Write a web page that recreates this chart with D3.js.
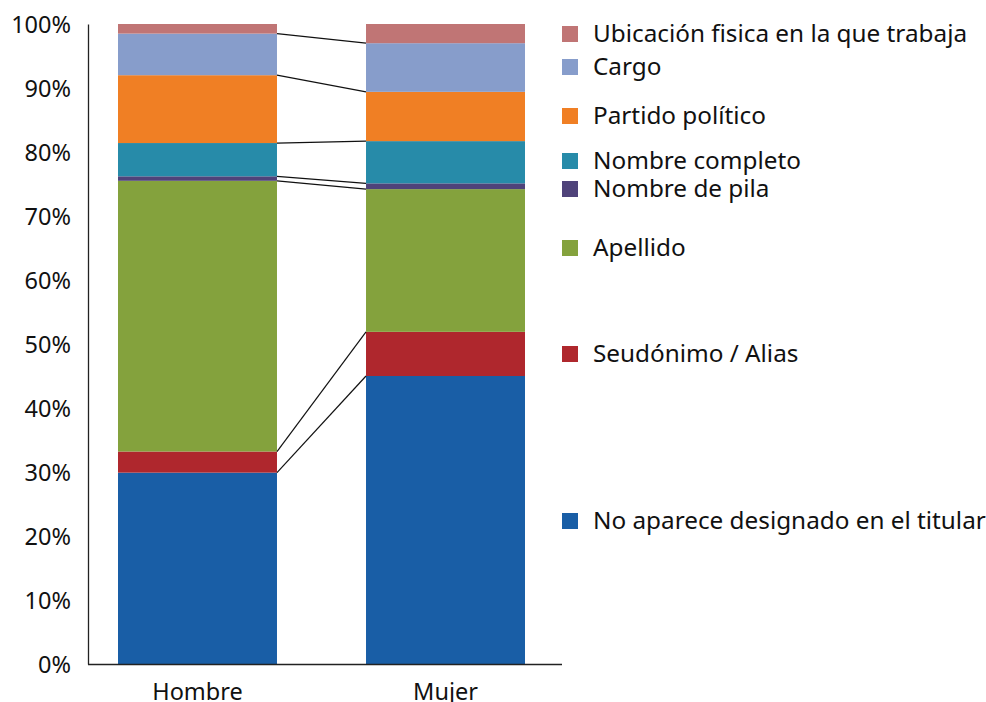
<!DOCTYPE html>
<html>
<head>
<meta charset="utf-8">
<script src="https://cdn.jsdelivr.net/npm/d3@7"></script>
<style>
  body { margin: 0; background: #fff; }
  text { font-family: "Noto Sans", sans-serif; fill: #111; }
</style>
</head>
<body>
<script>
// categories (bars) and series, bottom to top
var categories = ["Hombre", "Mujer"];
var seriesNames = [
  "No aparece designado en el titular",
  "Seudónimo / Alias",
  "Apellido",
  "Nombre de pila",
  "Nombre completo",
  "Partido político",
  "Cargo",
  "Ubicación fisica en la que trabaja"
];
// percentages, same order as seriesNames
var hombreValues = [29.9, 3.3, 42.3, 0.7, 5.2, 10.6, 6.5, 1.5];
var mujerValues  = [45.0, 6.9, 22.3, 0.9, 6.6, 7.7, 7.6, 3.0];
var yTicks = [0, 10, 20, 30, 40, 50, 60, 70, 80, 90, 100];

var colors = ["#195ea6", "#af272d", "#84a23d", "#4f437a", "#278ba9", "#f07f24", "#879dcb", "#c07575"];
// legend label centres (px), placed like the original
var legendY = [521, 354, 248, 189, 161, 116, 67, 34];

var svgWidth = 986;
var svgHeight = 702;

var svg = d3.select("body")
  .append("svg")
  .attr("width", svgWidth)
  .attr("height", svgHeight);

// build rows for d3.stack
var rows = categories.map(function(c, i) {
  var vals = i == 0 ? hombreValues : mujerValues;
  var row = { cat: c };
  seriesNames.forEach(function(s, j) { row[s] = vals[j]; });
  return row;
});

var stacked = d3.stack().keys(seriesNames)(rows);

var xScale = d3.scaleBand()
  .domain(categories)
  .range([88, 555])
  .paddingInner(0.359)
  .paddingOuter(0.121);

var yScale = d3.scaleLinear()
  .domain([0, 100])
  .range([664, 24]);

// bars
var layers = svg.selectAll("g.layer")
  .data(stacked)
  .enter()
  .append("g")
  .attr("class", "layer")
  .attr("fill", (d, i) => colors[i]);

layers.selectAll("rect")
  .data(d => d)
  .enter()
  .append("rect")
  .attr("x", d => xScale(d.data.cat))
  .attr("width", xScale.bandwidth())
  .attr("y", d => yScale(d[1]))
  .attr("height", d => yScale(d[0]) - yScale(d[1]));

// series lines between the two bars (top of each segment except the last)
stacked.slice(0, -1).forEach(function(layer) {
  svg.append("line")
    .attr("x1", xScale("Hombre") + xScale.bandwidth())
    .attr("y1", yScale(layer[0][1]))
    .attr("x2", xScale("Mujer"))
    .attr("y2", yScale(layer[1][1]))
    .attr("stroke", "#111")
    .attr("stroke-width", 1.2);
});

// y axis
var leftAxis = d3.axisLeft(yScale)
  .tickValues(yTicks)
  .tickFormat(d => d + "%")
  .tickSize(0)
  .tickPadding(17);

var yAxisG = svg.append("g")
  .attr("transform", "translate(88,0)")
  .call(leftAxis);
yAxisG.select(".domain").attr("stroke", "#222").attr("stroke-width", 1.3);
yAxisG.selectAll("text")
  .style("font-size", "23.5px")
  .style("fill", "#111")
  .attr("dy", "0.36em");

// x axis line and labels
svg.append("line")
  .attr("x1", 88).attr("x2", 562)
  .attr("y1", 664.5).attr("y2", 664.5)
  .attr("stroke", "#222")
  .attr("stroke-width", 1.3);

svg.selectAll("text.cat")
  .data(categories)
  .enter()
  .append("text")
  .attr("class", "cat")
  .attr("x", d => xScale(d) + xScale.bandwidth() / 2)
  .attr("y", 700)
  .attr("text-anchor", "middle")
  .style("font-size", "23.5px")
  .text(d => d);

// legend
var legend = svg.selectAll("g.leg")
  .data(seriesNames)
  .enter()
  .append("g")
  .attr("class", "leg")
  .attr("transform", (d, i) => "translate(562," + legendY[i] + ")");

legend.append("rect")
  .attr("x", 0)
  .attr("y", -8)
  .attr("width", 16)
  .attr("height", 16)
  .attr("fill", (d, i) => colors[i]);

legend.append("text")
  .attr("x", 31)
  .attr("y", 0)
  .attr("dy", "0.34em")
  .style("font-size", "24.3px")
  .text(d => d);
</script>
</body>
</html>
